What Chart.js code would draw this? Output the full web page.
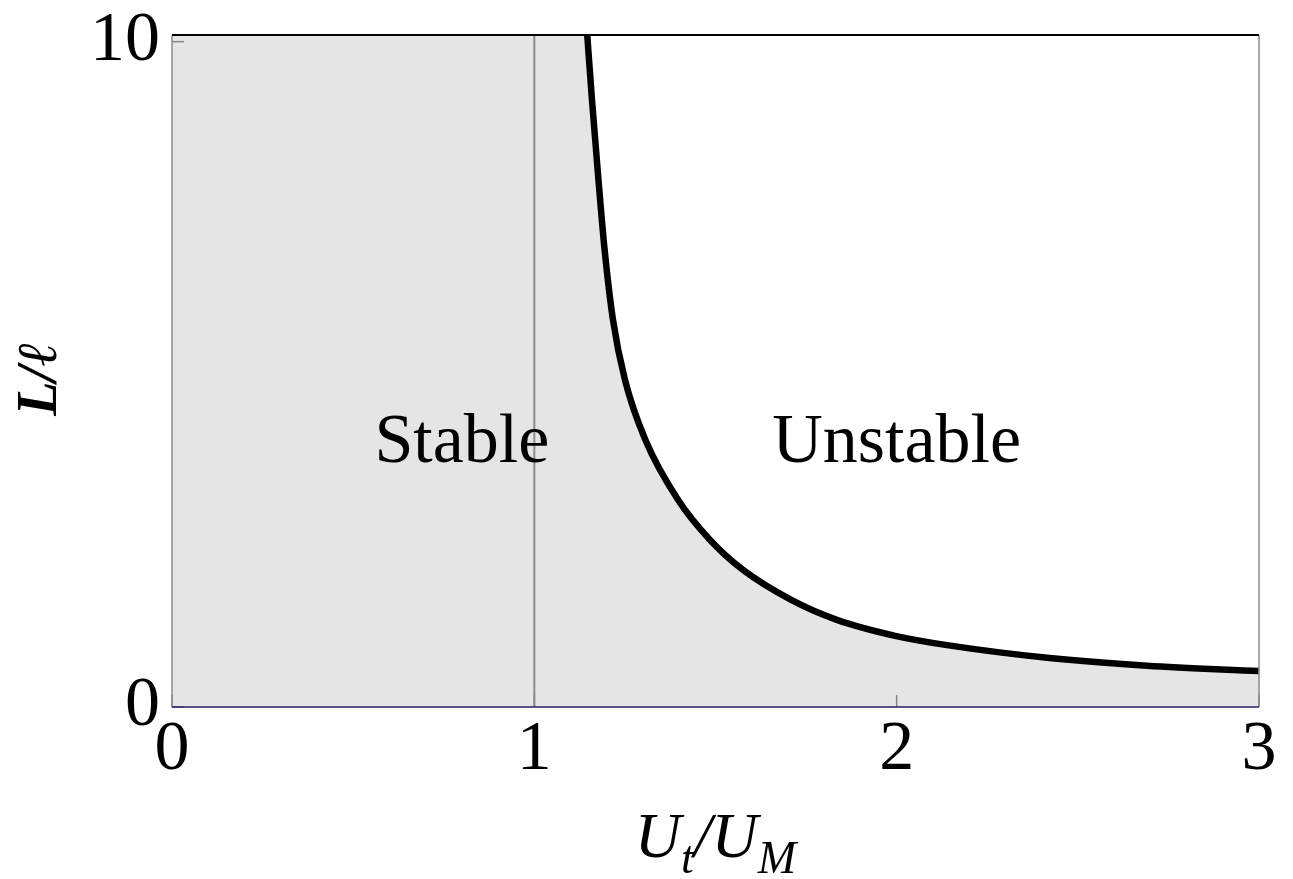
<!DOCTYPE html>
<html>
<head>
<meta charset="utf-8">
<script src="https://cdn.jsdelivr.net/npm/chart.js@4/dist/chart.umd.min.js"></script>
<style>
  html, body { margin: 0; padding: 0; background: #fff; }
  #wrap { width: 1293px; height: 879px; }
</style>
</head>
<body>
<div id="wrap"><canvas id="stabilityChart" width="1293" height="879"></canvas></div>
<script>
// axis ranges and tick labels
const uRange = [0, 3];
const lRange = [0, 10.1];
const uTicks = [0, 1, 2, 3];
const lTicks = [0, 10];

// marginal stability boundary, L/l against Ut/UM
const boundaryU = [1.146, 1.159, 1.177, 1.194, 1.217, 1.25, 1.306, 1.397, 1.485, 1.576, 1.709, 1.835, 1.996, 2.139, 2.415, 2.691, 3.0];
const boundaryL = [10.1, 9.13, 7.92, 6.87, 5.82, 4.92, 4.02, 3.11, 2.51, 2.06, 1.61, 1.31, 1.07, 0.93, 0.74, 0.62, 0.54];

// reference line at Ut = UM
const refU = 1;

// region labels
const regionNames = ["Stable", "Unstable"];
const regionU = [0.8, 2.0];
const regionL = [3.68, 3.68];

const serif = "'Liberation Serif', 'Times New Roman', serif";

const boundaryPts = boundaryU.map((u, i) => ({ x: u, y: boundaryL[i] }));
// stable region: full height left of the curve, then under it
const stablePts = [{ x: uRange[0], y: lRange[1] }].concat(boundaryPts);

const overlay = {
  id: "overlay",
  afterDatasetsDraw(chart) {
    const { ctx, chartArea: a, scales } = chart;
    ctx.save();
    // small inward ticks
    ctx.strokeStyle = "#888";
    ctx.lineWidth = 1.5;
    uTicks.forEach((u) => {
      const px = scales.x.getPixelForValue(u);
      ctx.beginPath();
      ctx.moveTo(px, a.bottom);
      ctx.lineTo(px, a.bottom - 12);
      ctx.stroke();
    });
    lTicks.forEach((l) => {
      const py = scales.y.getPixelForValue(l);
      ctx.beginPath();
      ctx.moveTo(a.left, py);
      ctx.lineTo(a.left + 12, py);
      ctx.stroke();
    });
    // frame
    const line = (x1, y1, x2, y2, col, w) => {
      ctx.strokeStyle = col;
      ctx.lineWidth = w;
      ctx.beginPath();
      ctx.moveTo(x1, y1);
      ctx.lineTo(x2, y2);
      ctx.stroke();
    };
    line(a.left, a.top, a.left, a.bottom, "#8a8a8a", 1.5);
    line(a.right, a.top, a.right, a.bottom, "#8a8a8a", 1.5);
    line(a.left, a.top, a.right, a.top, "#000", 2);
    line(a.left, a.bottom, a.right, a.bottom, "#22226a", 1.5);
    ctx.restore();
  },
  afterDraw(chart) {
    const { ctx, chartArea: a, scales } = chart;
    ctx.save();
    ctx.fillStyle = "#000";
    ctx.textBaseline = "alphabetic";

    // region labels
    ctx.font = "70px " + serif;
    ctx.textAlign = "center";
    regionNames.forEach((name, i) => {
      ctx.fillText(name, scales.x.getPixelForValue(regionU[i]), scales.y.getPixelForValue(regionL[i]));
    });

    // x title: U_t / U_M
    const big = "italic 64px " + serif;
    const small = "italic 46px " + serif;
    const parts = [
      { t: "U", f: big, dy: 0 },
      { t: "t", f: small, dy: 16 },
      { t: "/", f: big, dy: 0 },
      { t: "U", f: big, dy: 0 },
      { t: "M", f: small, dy: 16 },
    ];
    let total = 0;
    parts.forEach((p) => { ctx.font = p.f; p.w = ctx.measureText(p.t).width; total += p.w; });
    let x = (a.left + a.right) / 2 - total / 2;
    const base = 857;
    ctx.textAlign = "left";
    parts.forEach((p) => {
      ctx.font = p.f;
      ctx.fillText(p.t, x, base + p.dy);
      x += p.w;
    });

    // y title: L/ℓ, rotated
    ctx.translate(42, 379);
    ctx.rotate(-Math.PI / 2);
    ctx.font = "italic bold 56px " + serif;
    ctx.textAlign = "center";
    ctx.textBaseline = "middle";
    ctx.fillText("L/ℓ", 0, 0);
    ctx.restore();
  },
};

new Chart(document.getElementById("stabilityChart"), {
  type: "scatter",
  data: {
    datasets: [
      {
        // boundary curve
        data: boundaryPts,
        showLine: true,
        borderColor: "#000",
        borderWidth: 6.5,
        pointRadius: 0,
        cubicInterpolationMode: "monotone",
        fill: false,
      },
      {
        // Ut = UM
        data: [{ x: refU, y: lRange[0] }, { x: refU, y: lRange[1] }],
        showLine: true,
        borderColor: "#8c8c8c",
        borderWidth: 2,
        pointRadius: 0,
        fill: false,
      },
      {
        // shaded stable region
        data: stablePts,
        showLine: true,
        borderColor: "rgba(0,0,0,0)",
        borderWidth: 0,
        backgroundColor: "#e5e5e5",
        pointRadius: 0,
        cubicInterpolationMode: "monotone",
        fill: "origin",
      },
    ],
  },
  options: {
    responsive: false,
    animation: false,
    events: [],
    layout: { autoPadding: false, padding: { top: 35, right: 34, left: 0, bottom: 0 } },
    plugins: { legend: { display: false }, tooltip: { enabled: false } },
    scales: {
      x: {
        type: "linear",
        min: uRange[0],
        max: uRange[1],
        afterBuildTicks: (s) => { s.ticks = uTicks.map((v) => ({ value: v })); },
        afterFit: (s) => { s.height = 172; s.paddingLeft = 0; s.paddingRight = 0; },
        grid: { display: false, drawTicks: false },
        border: { display: false },
        ticks: { color: "#000", font: { family: serif, size: 70 }, padding: 2, maxRotation: 0 },
      },
      y: {
        type: "linear",
        min: lRange[0],
        max: lRange[1],
        afterBuildTicks: (s) => { s.ticks = lTicks.map((v) => ({ value: v })); },
        afterFit: (s) => { s.width = 172; s.paddingTop = 0; s.paddingBottom = 0; },
        grid: { display: false, drawTicks: false },
        border: { display: false },
        ticks: { color: "#000", font: { family: serif, size: 70 }, padding: 12 },
      },
    },
  },
  plugins: [overlay],
});
</script>
</body>
</html>
